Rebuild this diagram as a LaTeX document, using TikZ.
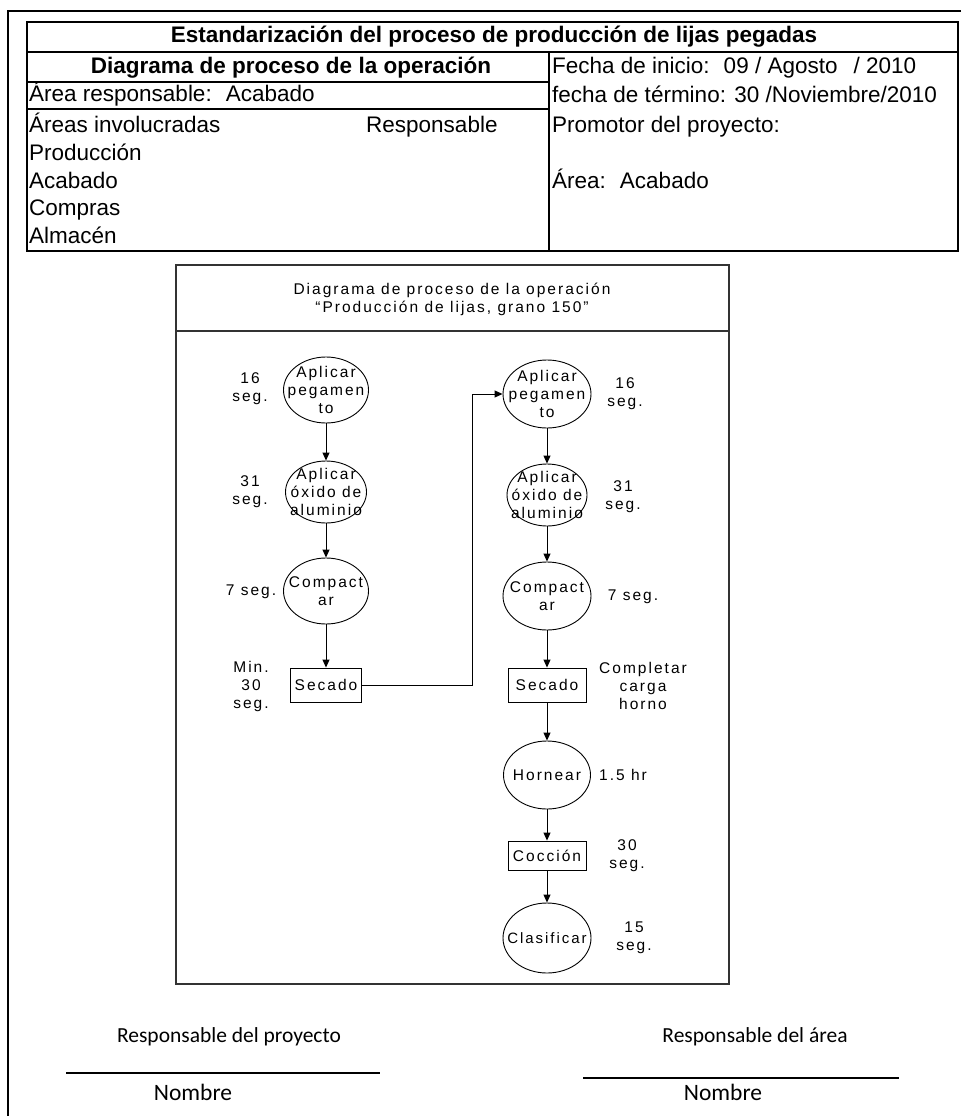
\documentclass[tikz,border=0pt]{standalone}
\usepackage{fontspec}
\setmainfont{Liberation Sans}
\newfontfamily\dgfont[LetterSpace=13]{Liberation Sans}
\newfontfamily\sigfont{Carlito}
\usetikzlibrary{arrows.meta,shapes.geometric}

\begin{document}
\begin{tikzpicture}[x=1pt,y=-1pt,
  frame/.style={line width=2.6pt},
  cell/.style={anchor=base west,inner sep=0pt,font=\fontsize{22.5}{27}\selectfont},
  headcell/.style={anchor=base,inner sep=0pt,font=\bfseries\fontsize{22.5}{27}\selectfont},
  dgtext/.style={inner sep=0pt,align=center,font=\dgfont\fontsize{15.5}{18}\selectfont},
  opnode/.style={draw,ellipse,line width=0.9pt,inner sep=0pt},
  boxnode/.style={draw,rectangle,line width=0.9pt,inner sep=0pt},
  flow/.style={line width=0.9pt,-{Triangle[length=8pt,width=7pt]}},
  sig/.style={inner sep=0pt,anchor=base,font=\sigfont\fontsize{21.5}{25}\selectfont},
  signame/.style={inner sep=0pt,anchor=base,font=\sigfont\fontsize{23.5}{27}\selectfont},
]
\useasboundingbox (0,0) rectangle (961,1116);
\fill[white] (0,0) rectangle (961,1116);

% page frame
\draw[frame] (961,11) -- (8,11) -- (8,1116);

% header table
\draw[frame] (27,22) rectangle (958,251);
\draw[frame] (27,52) -- (958,52);
\draw[frame] (27,82) -- (549,82);
\draw[frame] (27,109) -- (549,109);
\draw[frame] (549,52) -- (549,252);

\node[headcell] (title) at (494,43) {Estandarización del proceso de producción de lijas pegadas};
\node[headcell] (subtitle) at (291,74) {Diagrama de proceso de la operación};
\node[cell] (arearesp) at (29,101) {Área responsable:\hspace{14pt}Acabado};
\node[cell] (areasinv) at (29,132) {Áreas involucradas};
\node[cell] (respcol) at (366,132) {Responsable};
\node[cell] (prod) at (29,160) {Producción};
\node[cell] (acab) at (29,188) {Acabado};
\node[cell] (compr) at (29,215) {Compras};
\node[cell] (almac) at (29,243) {Almacén};
\node[cell] (fini) at (552,74) {Fecha de inicio:\hspace{14pt}09 / Agosto\hspace{16pt}/ 2010};
\node[cell] (fter) at (552,102) {fecha de término: 30 /Noviembre/2010};
\node[cell] (promo) at (552,132) {Promotor del proyecto:};
\node[cell] (area) at (552,188) {Área:\hspace{14pt}Acabado};

% process chart frame
\draw[line width=1.3pt,draw=black!80] (176,265) rectangle (729,984);
\draw[line width=1.3pt,draw=black!80] (176,331) -- (729,331);
\node[dgtext] (charttitle) at (452,299) {Diagrama de proceso de la operación\\“Producción de lijas, grano 150”};

% first line of operations
\node[opnode,minimum width=85pt,minimum height=66pt] (ap1) at (326,390) {};
\node[dgtext] (ap1t) at (ap1) {Aplicar\\pegamen\\to};
\node[opnode,minimum width=81pt,minimum height=62pt] (ox1) at (326,492) {};
\node[dgtext] (ox1t) at (ox1) {Aplicar\\óxido de\\aluminio};
\node[opnode,minimum width=85pt,minimum height=66pt] (co1) at (326,591) {};
\node[dgtext] (co1t) at (co1) {Compact\\ar};
\node[boxnode,minimum width=71pt,minimum height=34pt] (se1) at (326,685) {};
\node[dgtext] (se1t) at (se1) {Secado};

% second line of operations
\node[opnode,minimum width=88pt,minimum height=68pt] (ap2) at (547,394) {};
\node[dgtext] (ap2t) at (ap2) {Aplicar\\pegamen\\to};
\node[opnode,minimum width=80pt,minimum height=62pt] (ox2) at (547,495) {};
\node[dgtext] (ox2t) at (ox2) {Aplicar\\óxido de\\aluminio};
\node[opnode,minimum width=88pt,minimum height=68pt] (co2) at (547,596) {};
\node[dgtext] (co2t) at (co2) {Compact\\ar};
\node[boxnode,minimum width=78pt,minimum height=34pt] (se2) at (547,685) {};
\node[dgtext] (se2t) at (se2) {Secado};
\node[opnode,minimum width=87pt,minimum height=68pt] (ho) at (547,775) {};
\node[dgtext] (hot) at (ho) {Hornear};
\node[boxnode,minimum width=78pt,minimum height=29pt] (cc) at (547,855.5) {};
\node[dgtext] (cct) at (cc) {Cocción};
\node[opnode,minimum width=88pt,minimum height=70pt] (cl) at (547,938) {};
\node[dgtext,font=\dgfont\fontsize{15}{18}\selectfont] (clt) at (cl) {Clasificar};

% times
\node[dgtext] (t1) at (250,389) {16\\seg.};
\node[dgtext] (t2) at (250,492) {31\\seg.};
\node[dgtext] (t3) at (251,592) {7 seg.};
\node[dgtext] (t4) at (251,686) {Min.\\30\\seg.};
\node[dgtext] (t5) at (625,394) {16\\seg.};
\node[dgtext] (t6) at (623,497) {31\\seg.};
\node[dgtext] (t7) at (633,597) {7 seg.};
\node[dgtext] (t8) at (643,686) {Completar\\carga\\horno};
\node[dgtext] (t9) at (623,775) {1.5 hr};
\node[dgtext] (t10) at (627,856) {30\\seg.};
\node[dgtext] (t11) at (634,938) {15\\seg.};

% flow
\coordinate (jump) at (472,394);
\draw[flow] (ap1) -- (ox1);
\draw[flow] (ox1) -- (co1);
\draw[flow] (co1) -- (se1);
\draw[flow] (se1.east) -| (jump) -- (ap2.west);
\draw[flow] (ap2) -- (ox2);
\draw[flow] (ox2) -- (co2);
\draw[flow] (co2) -- (se2);
\draw[flow] (se2) -- (ho);
\draw[flow] (ho) -- (cc);
\draw[flow] (cc) -- (cl);

% signatures
\node[sig] (sigl) at (229,1042) {Responsable del proyecto};
\node[sig] (sigr) at (755,1042) {Responsable del área};
\coordinate (ll1) at (66,1073);
\coordinate (ll2) at (380,1073);
\coordinate (rl1) at (583,1078);
\coordinate (rl2) at (899,1078);
\draw[line width=2.8pt] (ll1) -- (ll2);
\draw[line width=2.8pt] (rl1) -- (rl2);
\node[signame] (noml) at (193,1100) {Nombre};
\node[signame] (nomr) at (723,1100) {Nombre};
\end{tikzpicture}
\end{document}
